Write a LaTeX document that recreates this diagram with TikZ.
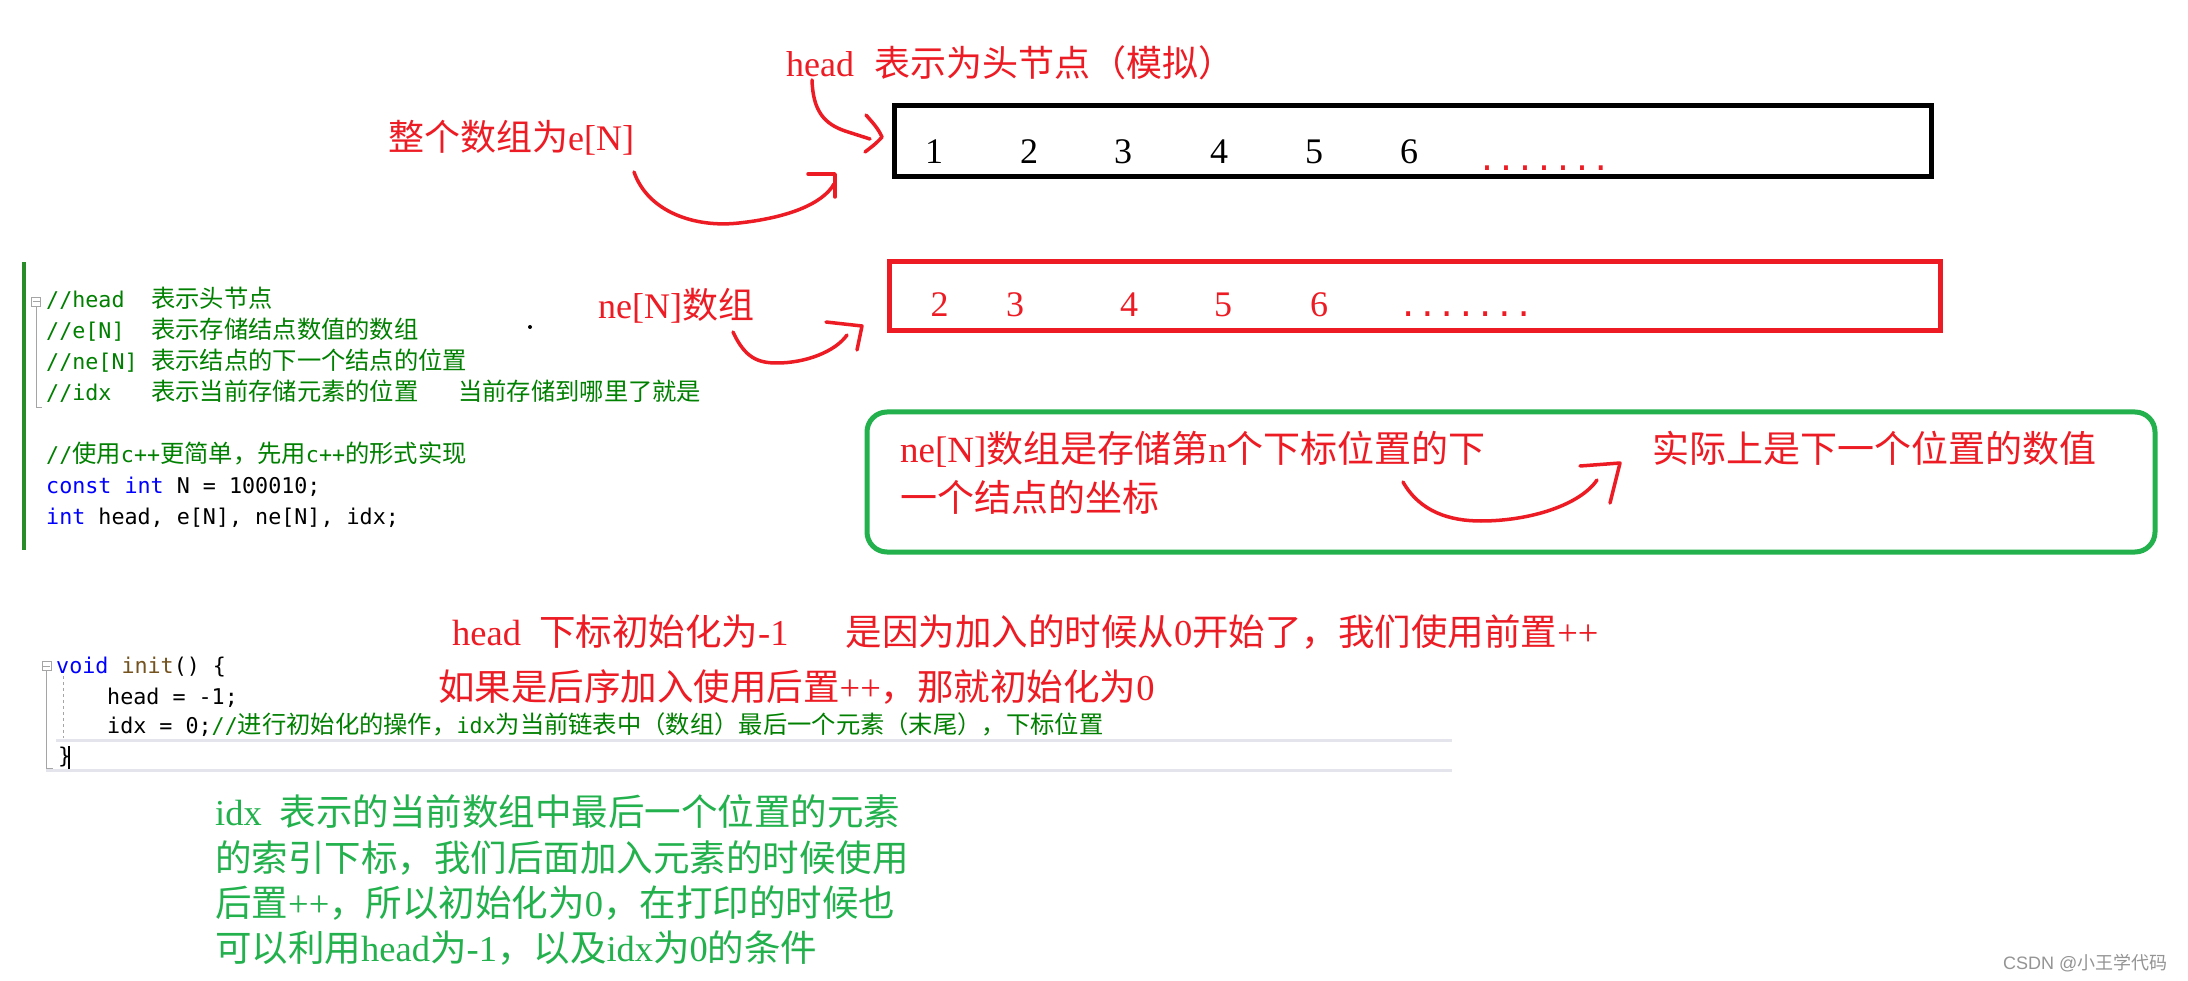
\documentclass[tikz,border=0pt]{standalone}
\usepackage{fontspec}
\setmainfont{Liberation Serif}
\setmonofont{DejaVu Sans Mono}
\newfontfamily\cjkA{Noto Sans CJK SC}
\newfontfamily\cjkB{Noto Sans CJK SC}[Scale=1.12]
\newfontfamily\wmfont{Liberation Sans}
\definecolor{pred}{RGB}{237,28,36}
\definecolor{pgreen}{RGB}{34,177,76}
\definecolor{cgreen}{RGB}{0,128,0}
\definecolor{cblue}{RGB}{0,0,255}
\definecolor{cbrown}{RGB}{116,83,31}
\definecolor{barg}{RGB}{40,140,40}
\definecolor{foldgray}{RGB}{165,165,165}
\definecolor{hlgray}{RGB}{228,228,236}
% automatic switching between Latin and CJK fonts
\XeTeXinterchartokenstate=1
\newXeTeXintercharclass\myCJKclass
\newcount\myccount
\def\mysetrange#1#2{\myccount=#1\relax
  \loop\XeTeXcharclass\myccount=\myCJKclass\relax
  \ifnum\myccount<#2\advance\myccount by 1\repeat}
\mysetrange{"3000}{"303F}
\mysetrange{"4E00}{"9FFF}
\mysetrange{"FF00}{"FFEF}
\def\mycjk{\cjkA}
\def\mylatin{\rmfamily}
\XeTeXinterchartoks 0 \myCJKclass = {\mycjk}
\XeTeXinterchartoks 4095 \myCJKclass = {\mycjk}
\XeTeXinterchartoks \myCJKclass 0 = {\mylatin}
\XeTeXinterchartoks \myCJKclass 4095 = {\mylatin}
\newcommand\annfont[1]{\def\mycjk{\cjkA}\def\mylatin{\rmfamily}\rmfamily\fontsize{#1}{#1}\selectfont}
\newcommand\codefont{\def\mycjk{\cjkB}\def\mylatin{\ttfamily}\ttfamily\fontsize{21.7}{26}\selectfont}
\newcommand\wmark{\def\mycjk{\cjkA}\def\mylatin{\wmfont}\wmfont\fontsize{18}{20}\selectfont}
\tikzset{
  ann/.style={anchor=base west, inner sep=0, text=pred},
  gann/.style={anchor=base west, inner sep=0, text=pgreen, font=\annfont{36.5}},
  code/.style={anchor=base west, inner sep=0, font=\codefont},
  cmt/.style={code, text=cgreen},
  digit/.style={inner sep=0, font=\rmfamily\fontsize{36}{36}\selectfont},
  dotrow/.style={anchor=base west, inner sep=0, text=pred, font=\ttfamily\fontsize{#1}{#1}\selectfont},
  redpen/.style={draw=pred, line width=3.5, line cap=round, line join=round},
  foldbox/.style={draw=foldgray, line width=1, minimum size=9, inner sep=0, fill=white},
  foldline/.style={draw=foldgray, line width=1},
}
\begin{document}
\begin{tikzpicture}[x=1pt,y=-1pt]
\useasboundingbox[fill=white] (0,0) rectangle (2188,981);

% ---------- top: e[N] box ----------
\node[ann, font=\annfont{36}] (headlbl) at (786,77) {head\hspace{20pt}表示为头节点（模拟）};
\node[ann, font=\annfont{36}] (elbl) at (388,151) {整个数组为e[N]};
\node[draw=black, line width=5, minimum width=1037, minimum height=71, inner sep=0] (ebox) at (1412.5,141.5) {};
\node[digit] (e1) at (934,152) {1};
\node[digit] (e2) at (1029,152) {2};
\node[digit] (e3) at (1123,152) {3};
\node[digit] (e4) at (1219,152) {4};
\node[digit] (e5) at (1314,152) {5};
\node[digit] (e6) at (1409,152) {6};
\node[dotrow=31.5] (edots) at (1477.5,171) {.......};

% head arrow
\coordinate (hA) at (812,80);
\coordinate (hB) at (870,139);
\draw[redpen] (hA) .. controls (813,112) and (825,124) .. (845,131) -- (hB);
\coordinate (hT1) at (866,115);
\coordinate (hT2) at (882,137);
\coordinate (hT3) at (865,152);
\draw[redpen] (hT1) .. controls (872,122) and (878,128) .. (hT2) .. controls (876,144) and (870,148) .. (hT3);

% e[N] arrow
\coordinate (eA) at (634,172);
\coordinate (eM) at (739,223);
\coordinate (eB) at (834,184);
\draw[redpen] (eA) .. controls (648,212) and (695,228) .. (eM) .. controls (785,218) and (822,205) .. (eB);
\coordinate (eH1) at (808,174);
\coordinate (eH2) at (835,174);
\coordinate (eH3) at (835,197);
\draw[redpen] (eH1) -- (eH2) -- (eH3);

% ---------- ne[N] box ----------
\node[ann, font=\annfont{36}] (nelbl) at (598,319) {ne[N]数组};
\node[draw=pred, line width=5, minimum width=1051, minimum height=69, inner sep=0] (nebox) at (1414.5,296.5) {};
\node[digit, text=pred] (n2) at (939.5,305) {2};
\node[digit, text=pred] (n3) at (1015,305) {3};
\node[digit, text=pred] (n4) at (1129,305) {4};
\node[digit, text=pred] (n5) at (1223,305) {5};
\node[digit, text=pred] (n6) at (1319,305) {6};
\node[dotrow=32] (ndots) at (1398.4,317) {.......};
\fill (530,327) circle (2);

% ne arrow
\coordinate (nA) at (733,332);
\coordinate (nM) at (777,363);
\coordinate (nB) at (847,335);
\draw[redpen] (nA) .. controls (745,358) and (758,363) .. (nM) .. controls (805,363) and (835,352) .. (nB);
\coordinate (nH1) at (826,322);
\coordinate (nH2) at (862,326);
\coordinate (nH3) at (857,350);
\draw[redpen] (nH1) -- (nH2) -- (nH3);

% ---------- green note box ----------
\node[draw=pgreen, line width=5, rounded corners=20, minimum width=1288, minimum height=140, inner sep=0] (gbox) at (1511,482) {};
\node[ann, font=\annfont{37}] (g1) at (900,462) {ne[N]数组是存储第n个下标位置的下};
\node[ann, font=\annfont{37}] (g2) at (900,511) {一个结点的坐标};
\node[ann, font=\annfont{37}] (g3) at (1652,462) {实际上是下一个位置的数值};
\coordinate (gA) at (1403,482);
\coordinate (gM) at (1481,521);
\coordinate (gB) at (1597,480);
\draw[redpen] (gA) .. controls (1420,512) and (1450,521) .. (gM) .. controls (1530,521) and (1580,505) .. (gB);
\coordinate (gH1) at (1580,466);
\coordinate (gH2) at (1620,463);
\coordinate (gH3) at (1610,503);
\draw[redpen] (gH1) -- (gH2) -- (gH3);

% ---------- code block 1 ----------
\fill[barg] (22,262) rectangle (26,550);
\node[foldbox] (fold1) at (36,302) {};
\draw[foldline] (32.5,302) -- (39.5,302);
\coordinate (fold1end) at (36,408);
\draw[foldline] (fold1.south) -- (fold1end) -- ++(6,0);
\node[cmt] (c0a) at (46,308) {//head};
\node[cmt] (c0b) at (151,308) {表示头节点};
\node[cmt] (c1a) at (46,339) {//e[N]};
\node[cmt] (c1b) at (151,339) {表示存储结点数值的数组};
\node[cmt] (c2a) at (46,370) {//ne[N]};
\node[cmt] (c2b) at (151,370) {表示结点的下一个结点的位置};
\node[cmt] (c3a) at (46,401) {//idx};
\node[cmt] (c3b) at (151,401) {表示当前存储元素的位置};
\node[cmt] (c3c) at (458,401) {当前存储到哪里了就是};
\node[cmt] (c5) at (46,462.5) {//使用c++更简单，先用c++的形式实现};
\node[code] (c6) at (46,493.4) {\textcolor{cblue}{const int} N = 100010;};
\node[code] (c7) at (46,524.3) {\textcolor{cblue}{int} head, e[N], ne[N], idx;};

% ---------- red notes ----------
\node[ann, font=\annfont{36.5}] (r1) at (452,645) {head\hspace{18pt}下标初始化为-1\hspace{57pt}是因为加入的时候从0开始了，我们使用前置++};
\node[ann, font=\annfont{36.5}] (r2) at (438,700) {如果是后序加入使用后置++，那就初始化为0};

% ---------- code block 2 ----------
\draw[hlgray, line width=3] (56,740) -- (1452,740);
\draw[hlgray, line width=3] (46,770) -- (1452,770);
\node[foldbox] (fold2) at (46.5,666) {};
\draw[foldline] (43,666) -- (50,666);
\coordinate (fold2end) at (46.5,768);
\draw[foldline] (fold2.south) -- (fold2end) -- ++(6,0);
\draw[foldgray, line width=1, dash pattern=on 3pt off 3pt] (63,676) -- (63,738);
\node[code] (i0) at (56,673) {\textcolor{cblue}{void} \textcolor{cbrown}{init}() \{};
\node[code] (i1) at (107,704) {head = -1;};
\node[code] (i2) at (107,733) {idx = 0;\textcolor{cgreen}{//进行初始化的操作，idx为当前链表中（数组）最后一个元素（末尾），下标位置}};
\node[code] (i3) at (58,763) {\}};
\draw[black, line width=1.5] (69,746) -- (69,769);

% ---------- green explanation ----------
\node[gann] (t1) at (215,825) {idx\hspace{18pt}表示的当前数组中最后一个位置的元素};
\node[gann] (t2) at (215,871) {的索引下标，我们后面加入元素的时候使用};
\node[gann] (t3) at (215,916) {后置++，所以初始化为0，在打印的时候也};
\node[gann] (t4) at (215,961) {可以利用head为-1，以及idx为0的条件};

% watermark
\node[anchor=base west, inner sep=0, text=black!42, font=\wmark] (wm) at (2003,969) {CSDN @小王学代码};
\end{tikzpicture}
\end{document}
